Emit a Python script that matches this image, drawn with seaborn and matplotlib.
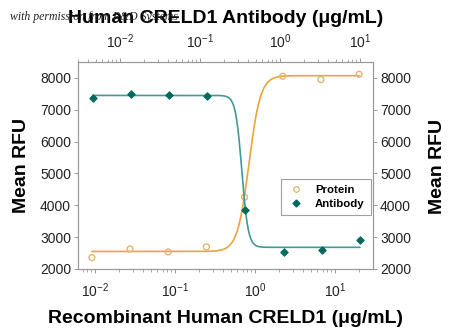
import numpy as np
import pandas as pd
import matplotlib
matplotlib.use("Agg")
import matplotlib.pyplot as plt
import seaborn as sns
from matplotlib.lines import Line2D
from matplotlib.ticker import LogLocator

sns.set_theme(style="white")
plt.rcParams['font.family'] = ['Liberation Sans', 'DejaVu Sans']
plt.rcParams['mathtext.default'] = 'regular'
plt.rcParams['text.color'] = 'black'
plt.rcParams['axes.labelcolor'] = 'black'
plt.rcParams['xtick.color'] = '#222222'
plt.rcParams['ytick.color'] = '#222222'

# ---- data ----
protein_conc = [0.00914, 0.0274, 0.0823, 0.247, 0.741, 2.22, 6.67, 20.0]
protein_rfu = [2357, 2629, 2535, 2692, 4255, 8052, 7948, 8115]
antibody_conc = [0.00457, 0.0137, 0.0412, 0.123, 0.370, 1.11, 3.33, 10.0]
antibody_rfu = [7371, 7497, 7465, 7430, 3857, 2535, 2598, 2913]

# fitted 4-parameter logistic curves (bottom, top, EC50, hill)
protein_fit = dict(bottom=2550, top=8070, ec50=0.84, hill=6.0)
antibody_fit = dict(bottom=2680, top=7450, ec50=0.334, hill=11.0)

c_prot_line = "#EBA43C"
c_prot_mark = "#E3B46E"
c_ab_line = "#3F9A98"
c_ab_mark = "#00695F"
tick_col = "#888888"

def logistic(x, p, increasing=True):
    r = (x / p['ec50']) ** p['hill']
    if increasing:
        return p['bottom'] + (p['top'] - p['bottom']) * r / (1 + r)
    return p['bottom'] + (p['top'] - p['bottom']) / (1 + r)

xp = np.logspace(np.log10(protein_conc[0]), np.log10(protein_conc[-1]), 400)
xa = np.logspace(np.log10(antibody_conc[0]), np.log10(antibody_conc[-1]), 400)
prot_curve = pd.DataFrame({'x': xp, 'y': logistic(xp, protein_fit, True)})
ab_curve = pd.DataFrame({'x': xa, 'y': logistic(xa, antibody_fit, False)})
prot_pts = pd.DataFrame({'x': protein_conc, 'y': protein_rfu})
ab_pts = pd.DataFrame({'x': antibody_conc, 'y': antibody_rfu})

fig = plt.figure(figsize=(4.5, 3.32), dpi=100)
ax = fig.add_axes([0.1733, 0.1898, 0.6556, 0.6235])
ax.set_xscale('log')
ax2 = ax.twiny()
ax2.set_xscale('log')

sns.lineplot(data=prot_curve, x='x', y='y', ax=ax, color=c_prot_line, lw=1.2)
sns.scatterplot(data=prot_pts, x='x', y='y', ax=ax, marker='o', s=18,
                facecolor='none', edgecolor=c_prot_mark, linewidth=1.0, zorder=5)
sns.lineplot(data=ab_curve, x='x', y='y', ax=ax2, color=c_ab_line, lw=1.2)
sns.scatterplot(data=ab_pts, x='x', y='y', ax=ax2, marker='D', s=14,
                color=c_ab_mark, edgecolor=c_ab_mark, linewidth=0.8, zorder=5)

ax.set_xlim(10 ** -2.2125, 10 ** 1.475)
ax2.set_xlim(10 ** -2.525, 10 ** 1.1625)
ax.set_ylim(2000, 8500)
ax.set_yticks([2000, 3000, 4000, 5000, 6000, 7000, 8000])

for a in (ax, ax2):
    a.xaxis.set_major_locator(LogLocator(base=10, numticks=10))
    a.xaxis.set_minor_locator(LogLocator(base=10, subs=np.arange(2, 10), numticks=20))

ax.tick_params(axis='x', which='major', direction='out', length=3, width=0.6,
               color=tick_col, labelsize=10, pad=6)
ax.tick_params(axis='x', which='minor', direction='out', length=2, width=0.5,
               color=tick_col, bottom=True)
ax2.tick_params(axis='x', which='major', direction='out', length=3, width=0.6,
                color=tick_col, labelsize=10, pad=5)
ax2.tick_params(axis='x', which='minor', direction='out', length=2, width=0.5,
                color=tick_col, top=True)
ax.tick_params(axis='y', which='major', direction='out', length=3, width=0.6,
               color=tick_col, labelsize=10, left=True, right=True,
               labelleft=True, labelright=True, pad=2)

for a in (ax, ax2):
    for s in a.spines.values():
        s.set_color('#999999')
        s.set_linewidth(0.8)

ax.set_xlabel("Recombinant Human CRELD1 (\u03bcg/mL)", fontsize=14,
              fontweight='bold', labelpad=7)
ax2.set_xlabel("Human CRELD1 Antibody (\u03bcg/mL)", fontsize=14,
               fontweight='bold', labelpad=7)
ax.set_ylabel("Mean RFU", fontsize=14, fontweight='bold', labelpad=7)
fig.text(0.972, 0.5, "Mean RFU", rotation=90, fontsize=14, fontweight='bold',
         ha='center', va='center')

handles = [
    Line2D([], [], ls='none', marker='o', markersize=4, markerfacecolor='none',
           markeredgecolor=c_prot_mark, markeredgewidth=0.9, label='Protein'),
    Line2D([], [], ls='none', marker='D', markersize=3.5, color=c_ab_mark,
           label='Antibody'),
]
leg = ax2.legend(handles=handles, loc='upper right', bbox_to_anchor=(1.012, 0.464),
                 frameon=True, fancybox=False, edgecolor='#888888',
                 prop={'weight': 'bold', 'size': 8.2}, handletextpad=1.0,
                 borderpad=0.55, labelspacing=0.35, handlelength=1.4)
leg.get_frame().set_linewidth(0.8)

fig.text(0.022, 0.948, "with permission from R&D Systems", fontsize=8.5,
         family=['Liberation Serif', 'DejaVu Serif'], style='italic',
         color='#222222', va='center', ha='left', zorder=10)

fig.savefig("out.png", dpi=100)
